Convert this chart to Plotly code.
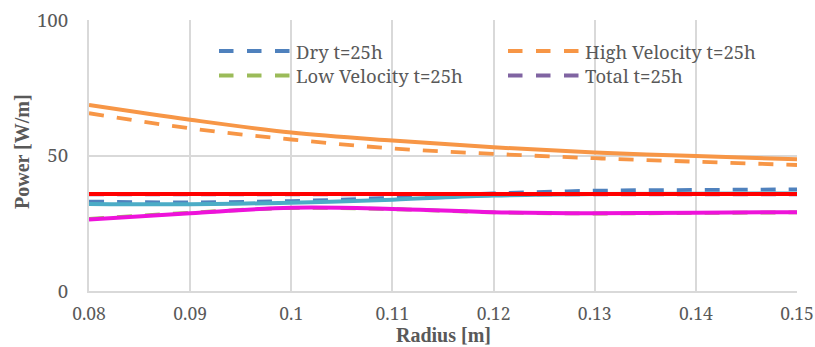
import plotly.graph_objects as go

# ---- data ----
radius = [0.08, 0.09, 0.10, 0.11, 0.12, 0.13, 0.14, 0.15]
x_tick_vals = [0.08, 0.09, 0.10, 0.11, 0.12, 0.13, 0.14, 0.15]
x_tick_text = ["0.08", "0.09", "0.1", "0.11", "0.12", "0.13", "0.14", "0.15"]
y_tick_vals = [0, 50, 100]

dry_25h = [33.0, 32.7, 33.2, 34.4, 36.0, 37.0, 37.3, 37.5]
high_vel_25h = [65.6, 60.0, 55.9, 52.6, 50.6, 49.0, 47.7, 46.5]
low_vel_25h = [26.6, 28.9, 30.6, 30.2, 29.0, 28.6, 28.8, 29.0]
total_25h = [35.7, 35.7, 35.7, 35.7, 35.7, 35.7, 35.7, 35.7]

dry_solid = [32.1, 32.0, 32.6, 33.7, 35.2, 35.8, 35.9, 36.0]
high_vel_solid = [68.6, 63.2, 58.5, 55.5, 53.0, 51.1, 49.8, 48.6]
low_vel_solid = [26.4, 28.7, 30.7, 30.3, 29.1, 28.7, 28.9, 29.1]
total_solid = [35.8, 35.8, 35.8, 35.8, 35.8, 35.8, 35.8, 35.8]

dashed_names = ["Dry t=25h", "High Velocity t=25h", "Low Velocity t=25h", "Total t=25h"]
dashed_values = [dry_25h, high_vel_25h, low_vel_25h, total_25h]
dashed_colors = ["#4F81BD", "#F79646", "#9BBB59", "#8064A2"]

solid_names = ["Dry", "High Velocity", "Total", "Low Velocity"]
solid_values = [dry_solid, high_vel_solid, total_solid, low_vel_solid]
solid_colors = ["#4BACC6", "#F79646", "#FF0000", "#EE12DA"]

TXT = "#595959"
GRID = "#D9D9D9"
DASH = "15px,13px"
REG = "Noto Serif"
BOLD = "Liberation Serif"

fig = go.Figure()
for name, vals, col in zip(dashed_names, dashed_values, dashed_colors):
    fig.add_trace(go.Scatter(x=radius, y=vals, name=name, mode="lines",
                             line=dict(color=col, width=3.8, dash=DASH, shape="spline"),
                             showlegend=False))
for name, vals, col in zip(solid_names, solid_values, solid_colors):
    fig.add_trace(go.Scatter(x=radius, y=vals, name=name, mode="lines",
                             line=dict(color=col, width=4, shape="spline"),
                             showlegend=False))

# ---- legend (two columns, drawn in paper coords) ----
L, R, T, B = 89, 18, 20, 56
W, H = 815, 347
pw, ph = W - L - R, H - T - B
def px(xp):
    return (xp - L) / pw
def py(yp):
    return (H - B - yp) / ph

legend_pos = [(219, 51), (508, 51), (219, 75.5), (508, 75.5)]
shapes = []
annotations = []
for (lx, ly), name, col in zip(legend_pos, dashed_names, dashed_colors):
    shapes.append(dict(type="line", xref="paper", yref="paper",
                       x0=px(lx), x1=px(lx + 71), y0=py(ly), y1=py(ly),
                       line=dict(color=col, width=4, dash="14.5px,13.5px")))
    annotations.append(dict(xref="paper", yref="paper", x=px(lx + 76), y=py(ly),
                            xanchor="left", yanchor="middle", showarrow=False, borderpad=0,
                            text=name, font=dict(family=REG, size=18.5, color=TXT)))

annotations.append(dict(xref="paper", yref="paper", x=0.5, y=py(335),
                        xanchor="center", yanchor="middle", showarrow=False, borderpad=0,
                        text="<b>Radius [m]</b>", font=dict(family=BOLD, size=20, color=TXT)))
annotations.append(dict(xref="paper", yref="paper", x=px(22), y=py(152),
                        xanchor="center", yanchor="middle", showarrow=False, textangle=-90,
                        text="<b>Power [W/m]</b>", font=dict(family=BOLD, size=20, color=TXT)))

fig.update_layout(
    width=W, height=H,
    margin=dict(l=L, r=R, t=T, b=B, pad=0, autoexpand=False),
    paper_bgcolor="white", plot_bgcolor="white",
    font=dict(family=REG, size=18, color=TXT),
    shapes=shapes, annotations=annotations,
    showlegend=False,
)
fig.update_xaxes(range=[0.08, 0.15], tickvals=x_tick_vals, ticktext=x_tick_text,
                 automargin=False,
                 showgrid=True, gridcolor=GRID, gridwidth=2,
                 showline=True, linecolor=GRID, linewidth=2,
                 zeroline=False, ticks="", ticklabelstandoff=6,
                 ticklabeloverflow="allow",
                 tickfont=dict(family=REG, size=17.5, color=TXT))
fig.update_yaxes(range=[0, 100], tickvals=y_tick_vals,
                 automargin=False,
                 showgrid=True, gridcolor=GRID, gridwidth=2,
                 showline=True, linecolor=GRID, linewidth=2,
                 zeroline=False, ticks="", ticklabelstandoff=15,
                 tickfont=dict(family=REG, size=18.7, color=TXT))

fig.write_html("out.html", config={"displayModeBar": False},
               post_script="document.body.style.margin='0';document.body.style.overflow='hidden';")
